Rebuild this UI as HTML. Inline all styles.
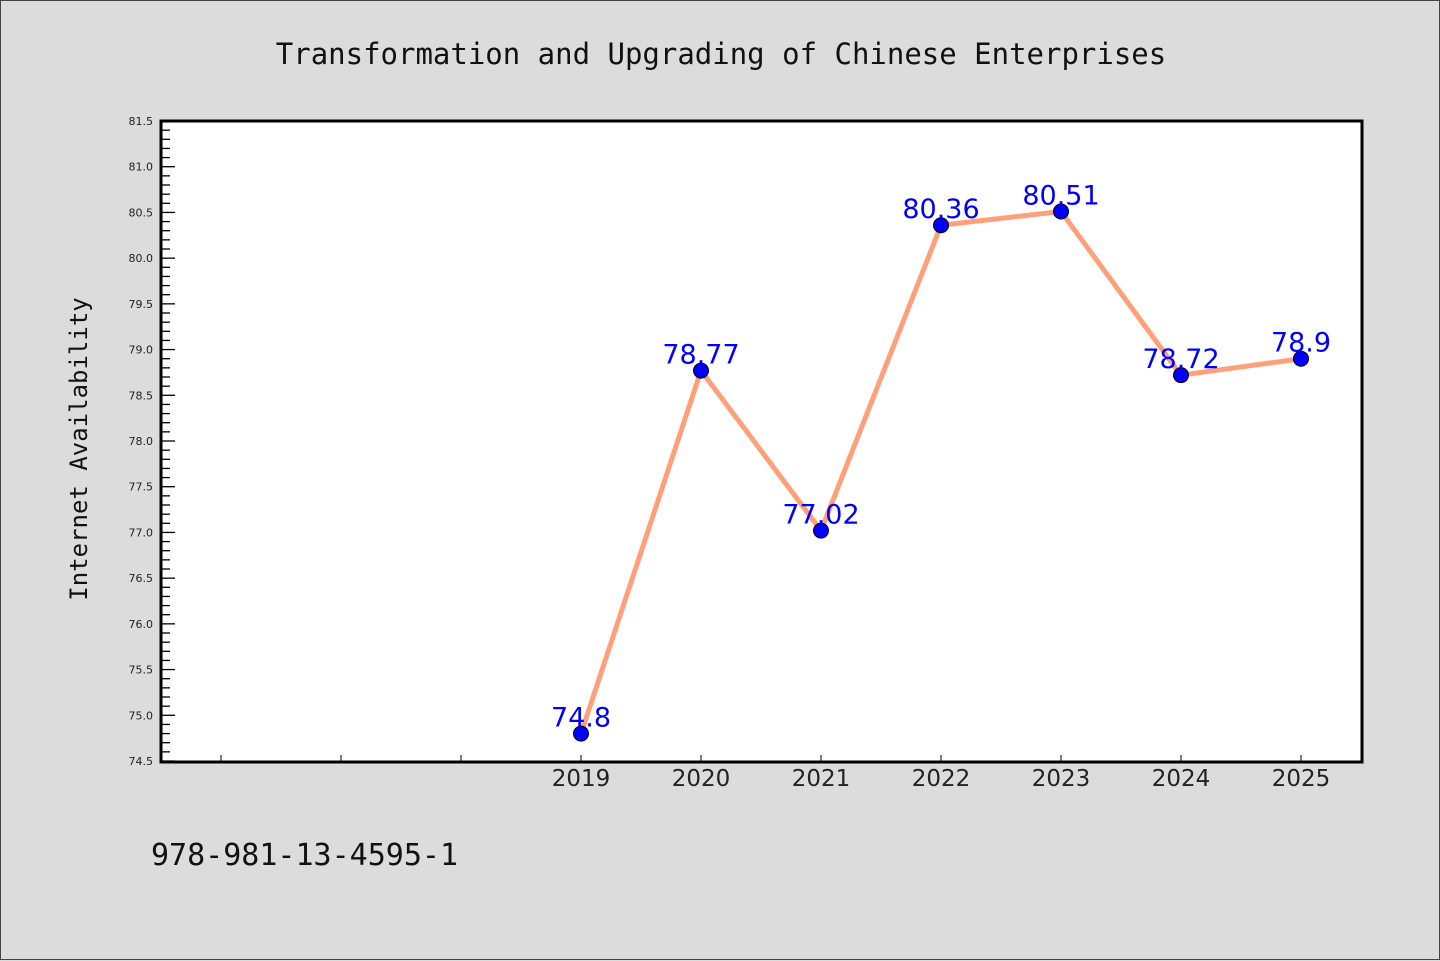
<!DOCTYPE html>
<html><head><meta charset="utf-8"><style>
html,body{margin:0;padding:0;background:#dcdcdc;}
#wrap{position:relative;width:1438px;height:958px;border:1px solid #444;background:#dcdcdc;}
svg{position:absolute;left:0;top:0;}
</style></head><body>
<div id="wrap">
<svg id="chart" width="1440" height="960">
<text x="720" y="63" text-anchor="middle" font-family="DejaVu Sans Mono, Liberation Mono, monospace" font-size="29" fill="#111">Transformation and Upgrading of Chinese Enterprises</text>
<text transform="translate(86,448) rotate(-90)" text-anchor="middle" font-family="DejaVu Sans Mono, Liberation Mono, monospace" font-size="24" fill="#111">Internet Availability</text>
<text x="150" y="864" font-family="DejaVu Sans Mono, Liberation Mono, monospace" font-size="30" fill="#111">978-981-13-4595-1</text>
<rect x="160" y="120" width="1201" height="641" fill="#fff"/>
<g id="yticks"></g><g id="xticks"></g><g id="series"></g>
<rect x="160" y="120" width="1201" height="641" fill="none" stroke="#000" stroke-width="3"/>
</svg>
</div>
<script>
const categories = ["", "", "", "2019", "2020", "2021", "2022", "2023", "2024", "2025"];
const values = [null, null, null, 74.8, 78.77, 77.02, 80.36, 80.51, 78.72, 78.9];
const valueLabels = ["", "", "", "74.8", "78.77", "77.02", "80.36", "80.51", "78.72", "78.9"];
const yMin = 74.5, yMax = 81.5;
const NS = "http://www.w3.org/2000/svg";
const L = 160, R = 1360, T = 120, B = 760;
function xs(i){ return L + (R - L) / categories.length * (i + 0.5); }
function ys(v){ return B - (v - yMin) / (yMax - yMin) * (B - T); }
function mk(tag, attrs, parent){ const e = document.createElementNS(NS, tag); for (const k in attrs) e.setAttribute(k, attrs[k]); parent.appendChild(e); return e; }
const yt = document.getElementById('yticks');
for (let k = 0; k <= 70; k++) {
  const v = yMin + k * 0.1, y = ys(v), major = k % 5 === 0;
  const t = mk('line', {x1: L, x2: L + (major ? 14 : 9), y1: y, y2: y, stroke: '#000', 'stroke-width': 1.3}, yt);
  
  
  if (major) {
    const lb = mk('text', {x: 152, y: y + 4, 'text-anchor': 'end', 'font-family': 'DejaVu Sans, Liberation Sans, sans-serif', 'font-size': 11, fill: '#222'}, yt);
    lb.textContent = v.toFixed(1);
    
    
  }
}
const xt = document.getElementById('xticks');
categories.forEach((c, i) => {
  const x = xs(i);
  const t = mk('line', {x1: x, x2: x, y1: B, y2: B - 6, stroke: '#000', 'stroke-width': 1}, xt);
  
  
  if (c) {
    const lb = mk('text', {x: x, y: 785, 'text-anchor': 'middle', 'font-family': 'DejaVu Sans, Liberation Sans, sans-serif', 'font-size': 23, fill: '#222'}, xt);
    lb.textContent = c;
    
    
  }
});
const sg = document.getElementById('series');
const pts = [];
values.forEach((v, i) => { if (v !== null) pts.push([xs(i), ys(v), i]); });
const line = mk('polyline', {points: pts.map(p => p[0] + ',' + p[1]).join(' '), fill: 'none', stroke: '#ffa07a', 'stroke-width': 5, 'stroke-linejoin': 'round'}, sg);


pts.forEach(p => {
  const c = mk('circle', {cx: p[0], cy: p[1], r: 7.5, fill: '#0000ff', stroke: '#000', 'stroke-width': 1}, sg);
  
  
  const lb = mk('text', {x: p[0], y: p[1] - 7, 'text-anchor': 'middle', 'font-family': 'DejaVu Sans, Liberation Sans, sans-serif', 'font-size': 27, fill: '#0000ff'}, sg);
  lb.textContent = valueLabels[p[2]];
  
  
});
</script>
</body></html>
